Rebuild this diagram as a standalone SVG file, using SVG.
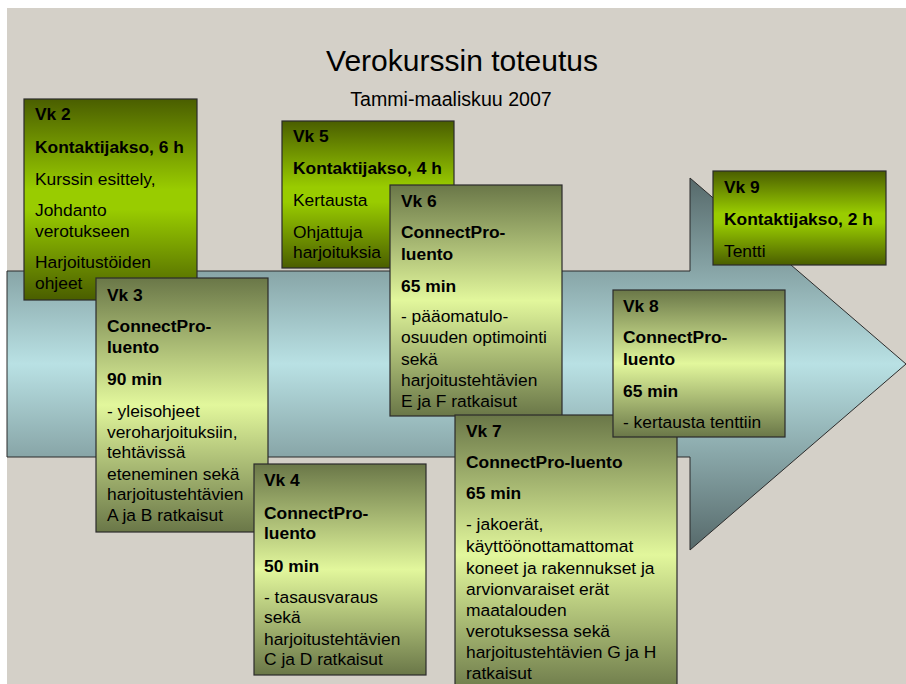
<svg xmlns="http://www.w3.org/2000/svg" width="906" height="684" viewBox="0 0 906 684">
<defs>
<linearGradient id="gArrow" x1="0" y1="0" x2="0" y2="1">
<stop offset="0" stop-color="#56696a"/>
<stop offset="0.5" stop-color="#b9e1e4"/>
<stop offset="1" stop-color="#56696a"/>
</linearGradient>
<linearGradient id="gK" x1="0" y1="0" x2="0" y2="1">
<stop offset="0" stop-color="#4a5e00"/>
<stop offset="0.45" stop-color="#99cc00"/>
<stop offset="0.55" stop-color="#99cc00"/>
<stop offset="1" stop-color="#4a5e00"/>
</linearGradient>
<linearGradient id="gC" x1="0" y1="0" x2="0" y2="1">
<stop offset="0" stop-color="#6a7748"/>
<stop offset="0.5" stop-color="#e2f79c"/>
<stop offset="1" stop-color="#6a7748"/>
</linearGradient>
</defs>
<style>
.box{stroke:#2b2b2b;stroke-width:1.2}
.k{fill:url(#gK)}
.c{fill:url(#gC)}
text{font-family:"Liberation Sans",Arial,sans-serif;fill:#000}
.t{font-size:17.4px}
.b{font-size:17.4px;font-weight:bold}
</style>
<rect x="0" y="0" width="906" height="684" fill="#ffffff"/>
<rect x="7" y="8" width="899" height="676" fill="#d4d0c8"/>
<g id="title">
<text x="462" y="71" text-anchor="middle" style="font-size:30px">Verokurssin toteutus</text>
<text x="451" y="106" text-anchor="middle" style="font-size:19.6px">Tammi-maaliskuu 2007</text>
</g>
<g id="arrow">
<polygon points="7,271 690,271 690,178 906,364 690,550 690,457 7,457" fill="url(#gArrow)" stroke="#2b2b2b" stroke-width="1"/>
</g>
<g id="vk2">
<rect class="box k" x="24" y="99" width="173" height="201"/>
<text class="b" x="35" y="120">Vk 2</text>
<text class="b" x="35" y="153">Kontaktijakso, 6 h</text>
<text class="t" x="35" y="185">Kurssin esittely,</text>
<text class="t" x="35" y="216">Johdanto</text>
<text class="t" x="35" y="237">verotukseen</text>
<text class="t" x="35" y="268">Harjoitustöiden</text>
<text class="t" x="35" y="289">ohjeet</text>
</g>
<g id="vk5">
<rect class="box k" x="282" y="121" width="172" height="147"/>
<text class="b" x="293" y="142">Vk 5</text>
<text class="b" x="293" y="174">Kontaktijakso, 4 h</text>
<text class="t" x="293" y="206">Kertausta</text>
<text class="t" x="293" y="238">Ohjattuja</text>
<text class="t" x="293" y="258">harjoituksia</text>
</g>
<g id="vk9">
<rect class="box k" x="713" y="171" width="173" height="94"/>
<text class="b" x="724" y="193">Vk 9</text>
<text class="b" x="724" y="225">Kontaktijakso, 2 h</text>
<text class="t" x="724" y="257">Tentti</text>
</g>
<g id="vk3">
<rect class="box c" x="96" y="278" width="172" height="254"/>
<text class="b" x="107" y="301">Vk 3</text>
<text class="b" x="107" y="332">ConnectPro-</text>
<text class="b" x="107" y="353">luento</text>
<text class="b" x="107" y="385">90 min</text>
<text class="t" x="107" y="417">- yleisohjeet</text>
<text class="t" x="107" y="438">veroharjoituksiin,</text>
<text class="t" x="107" y="458">tehtävissä</text>
<text class="t" x="107" y="480">eteneminen sekä</text>
<text class="t" x="107" y="500">harjoitustehtävien</text>
<text class="t" x="107" y="521">A ja B ratkaisut</text>
</g>
<g id="vk4">
<rect class="box c" x="254" y="464" width="172" height="211"/>
<text class="b" x="264" y="486">Vk 4</text>
<text class="b" x="264" y="519">ConnectPro-</text>
<text class="b" x="264" y="539">luento</text>
<text class="b" x="264" y="572">50 min</text>
<text class="t" x="264" y="603">- tasausvaraus</text>
<text class="t" x="264" y="623">sekä</text>
<text class="t" x="264" y="645">harjoitustehtävien</text>
<text class="t" x="264" y="665">C ja D ratkaisut</text>
</g>
<g id="vk6">
<rect class="box c" x="390" y="185" width="172" height="231"/>
<text class="b" x="401" y="207">Vk 6</text>
<text class="b" x="401" y="238">ConnectPro-</text>
<text class="b" x="401" y="260">luento</text>
<text class="b" x="401" y="292">65 min</text>
<text class="t" x="401" y="322">- pääomatulo-</text>
<text class="t" x="401" y="343">osuuden optimointi</text>
<text class="t" x="401" y="365">sekä</text>
<text class="t" x="401" y="386">harjoitustehtävien</text>
<text class="t" x="401" y="407">E ja F ratkaisut</text>
</g>
<g id="vk7">
<rect class="box c" x="455" y="415" width="222" height="280"/>
<text class="b" x="466" y="437">Vk 7</text>
<text class="b" x="466" y="468">ConnectPro-luento</text>
<text class="b" x="466" y="499">65 min</text>
<text class="t" x="466" y="530">- jakoerät,</text>
<text class="t" x="466" y="552">käyttöönottamattomat</text>
<text class="t" x="466" y="574">koneet ja rakennukset ja</text>
<text class="t" x="466" y="595">arvionvaraiset erät</text>
<text class="t" x="466" y="616">maatalouden</text>
<text class="t" x="466" y="637">verotuksessa sekä</text>
<text class="t" x="466" y="658">harjoitustehtävien G ja H</text>
<text class="t" x="466" y="679">ratkaisut</text>
</g>
<g id="vk8">
<rect class="box c" x="613" y="290" width="172" height="147"/>
<text class="b" x="623" y="312">Vk 8</text>
<text class="b" x="623" y="343">ConnectPro-</text>
<text class="b" x="623" y="365">luento</text>
<text class="b" x="623" y="397">65 min</text>
<text class="t" x="623" y="428">- kertausta tenttiin</text>
</g>
</svg>
